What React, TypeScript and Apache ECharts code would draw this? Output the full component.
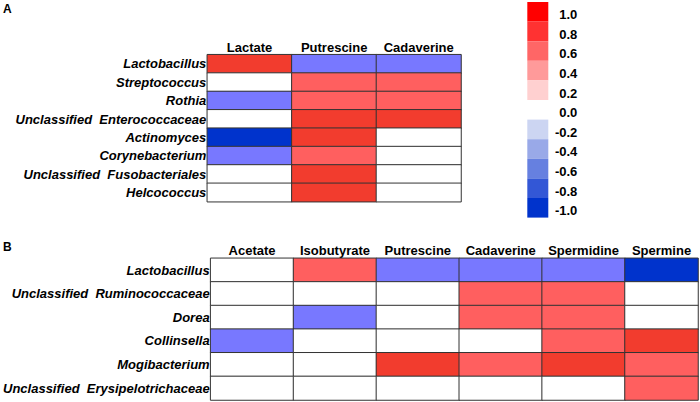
import React, { useEffect, useRef } from "react";
import * as echarts from "echarts";

// ---------- Data ----------
const colsA = ["Lactate", "Putrescine", "Cadaverine"];
const rowsA = [
  "Lactobacillus",
  "Streptococcus",
  "Rothia",
  "Unclassified  Enterococcaceae",
  "Actinomyces",
  "Corynebacterium",
  "Unclassified  Fusobacteriales",
  "Helcococcus",
];
// rows x cols (correlation coefficients, 0 = not significant)
const valuesA = [
  [0.8, -0.6, -0.6],
  [0, 0.6, 0.6],
  [-0.6, 0.6, 0.6],
  [0, 0.8, 0.8],
  [-1.0, 0.8, 0],
  [-0.6, 0.6, 0],
  [0, 0.8, 0],
  [0, 0.8, 0],
];

const colsB = ["Acetate", "Isobutyrate", "Putrescine", "Cadaverine", "Spermidine"];
const colsB2 = ["Spermine"];
const rowsB = [
  "Lactobacillus",
  "Unclassified  Ruminococcaceae",
  "Dorea",
  "Collinsella",
  "Mogibacterium",
  "Unclassified  Erysipelotrichaceae",
];
const valuesB = [
  [0, 0.6, -0.6, -0.6, -0.6],
  [0, 0, 0, 0.6, 0.6],
  [0, -0.6, 0, 0.6, 0.6],
  [-0.6, 0, 0, 0, 0.6],
  [0, 0, 0.8, 0.6, 0.8],
  [0, 0, 0, 0, 0],
];
const valuesB2 = [-1.0, 0, 0, 0.8, 0.6, 0.6];

const legendValues = [1.0, 0.8, 0.6, 0.4, 0.2, 0.0, -0.2, -0.4, -0.6, -0.8, -1.0];
const legendColors = [
  "#FF0000", "#FF3232", "#FF6666", "#FF9A9A", "#FFD0D0", "#FFFFFF",
  "#CCD5F2", "#99A9E8", "#6680E0", "#3357D6", "#0033CC",
];

const FONT = "'Liberation Sans', Arial, Helvetica, sans-serif";

function toCells(matrix: number[][]) {
  const out: number[][] = [];
  matrix.forEach((row, r) => row.forEach((v, c) => out.push([c, r, v])));
  return out;
}

export default function App() {
  const ref = useRef<HTMLDivElement>(null);
  useEffect(() => {
    document.body.style.margin = "0";
    if (!ref.current) return;
    const chart = echarts.init(ref.current, undefined, { renderer: "svg" });

    const xLabel = { fontFamily: FONT, fontWeight: "bold" as const, fontSize: 13, color: "#000", margin: 1, interval: 0 };
    const yLabel = { fontFamily: FONT, fontWeight: "bold" as const, fontStyle: "italic" as const, fontSize: 13, color: "#000", margin: 1, interval: 0 };
    const hiddenAxis = { axisLine: { show: false }, axisTick: { show: false }, splitLine: { show: false } };
    const cellStyle = { borderColor: "#333", borderWidth: 1 };

    chart.setOption({
      animation: false,
      backgroundColor: "#fff",
      grid: [
        { left: 207.3, top: 54.7, width: 253.7, height: 147 },
        { left: 207.3, top: 258.3, width: 417.7, height: 141.7 },
        { left: 625, top: 258.3, width: 73, height: 141.7 },
      ],
      xAxis: [
        { type: "category", gridIndex: 0, data: colsA, position: "top", ...hiddenAxis, axisLabel: xLabel },
        { type: "category", gridIndex: 1, data: colsB, position: "top", ...hiddenAxis, axisLabel: xLabel },
        { type: "category", gridIndex: 2, data: colsB2, position: "top", ...hiddenAxis, axisLabel: xLabel },
      ],
      yAxis: [
        { type: "category", gridIndex: 0, data: rowsA, inverse: true, ...hiddenAxis, axisLabel: yLabel },
        { type: "category", gridIndex: 1, data: rowsB, inverse: true, ...hiddenAxis, axisLabel: yLabel },
        { type: "category", gridIndex: 2, data: rowsB, inverse: true, ...hiddenAxis, axisLabel: { show: false } },
      ],
      visualMap: [
        {
          type: "piecewise",
          show: false,
          seriesIndex: [0, 1, 2],
          dimension: 2,
          pieces: [
            { gt: 0.7, color: "#F23C2E" },
            { gt: 0.3, lte: 0.7, color: "#FF5F5F" },
            { gte: -0.1, lte: 0.1, color: "#FFFFFF" },
            { gte: -0.8, lt: -0.1, color: "#7878FF" },
            { lt: -0.8, color: "#0033CC" },
          ],
        },
        {
          type: "piecewise",
          show: true,
          seriesIndex: [],
          orient: "vertical",
          align: "left",
          left: 512.3,
          top: -13,
          itemWidth: 21,
          itemHeight: 19.6,
          itemGap: 0,
          itemSymbol: "rect",
          textGap: 7,
          selectedMode: false,
          pieces: legendValues.map((v, i) => ({
            value: v,
            color: legendColors[i],
            label: "{a|" + v.toFixed(1) + "}",
          })),
          textStyle: {
            fontFamily: FONT,
            fontWeight: "bold",
            fontSize: 13,
            color: "#000",
            rich: {
              a: {
                fontFamily: FONT,
                fontWeight: "bold",
                fontSize: 13,
                color: "#000",
                width: 22,
                align: "right",
                padding: [6, 0, 0, 0],
              },
            },
          },
        },
      ],
      graphic: [
        { type: "text", left: 3, top: 3, style: { text: "A", font: "bold 12px " + FONT, fill: "#000" } },
        { type: "text", left: 3, top: 241, style: { text: "B", font: "bold 12px " + FONT, fill: "#000" } },
      ],
      series: [
        { type: "heatmap", xAxisIndex: 0, yAxisIndex: 0, data: toCells(valuesA), itemStyle: cellStyle },
        { type: "heatmap", xAxisIndex: 1, yAxisIndex: 1, data: toCells(valuesB), itemStyle: cellStyle },
        {
          type: "heatmap",
          xAxisIndex: 2,
          yAxisIndex: 2,
          data: valuesB2.map((v, r) => [0, r, v]),
          itemStyle: cellStyle,
        },
      ],
    });
    return () => chart.dispose();
  }, []);
  return <div ref={ref} style={{ width: 700, height: 402 }} />;
}
